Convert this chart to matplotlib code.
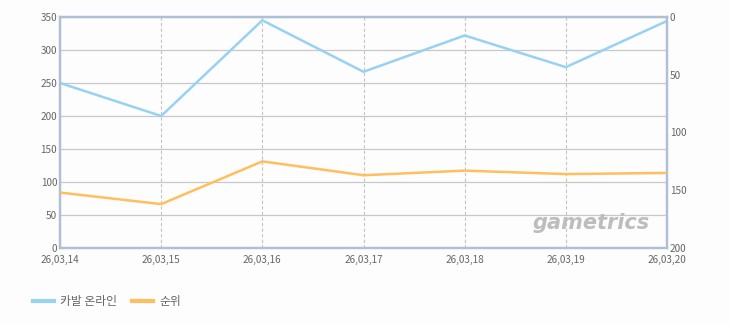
import matplotlib
matplotlib.use("Agg")
import matplotlib.pyplot as plt
from matplotlib.lines import Line2D

plt.rcParams['font.family'] = ['Noto Sans CJK KR', 'DejaVu Sans']

dates = ['26,03,14', '26,03,15', '26,03,16', '26,03,17', '26,03,18', '26,03,19', '26,03,20']
game_vals = [250, 200, 345, 267, 322, 274, 344]
rank_vals = [152, 162, 125, 137, 133, 136, 135]

blue = '#97d2f2'
orange = '#ffbf5e'
frame = '#adc0d6'
txt = '#666666'

fig = plt.figure(figsize=(7.3, 3.25), dpi=100)
fig.patch.set_facecolor('#fdfdfd')
ax = fig.add_axes([60/730, 77/325, 607/730, 231/325])
ax.set_facecolor('#fdfdfd')

x = list(range(len(dates)))
ax.plot(x, game_vals, color=blue, lw=1.8, zorder=3)
ax.set_xlim(0, len(dates) - 1)
ax.set_ylim(0, 350)
ax.set_yticks(range(0, 351, 50))
ax.set_xticks(x)
ax.set_xticklabels(dates)

ax.grid(axis='y', color='#c8c8c8', lw=0.9, ls='-')
ax.grid(axis='x', color='#c4c4c4', lw=0.8, ls=(0, (3, 2)))
ax.set_axisbelow(True)

# rank on the right, inverted
ax2 = ax.twinx()
ax2.plot(x, rank_vals, color=orange, lw=1.8, zorder=3)
ax2.set_ylim(200, 0)
ax2.set_yticks(range(0, 201, 50))

for a in (ax, ax2):
    for s in a.spines.values():
        s.set_color(frame)
        s.set_linewidth(1.6)
    a.tick_params(length=0, labelsize=7.2, labelcolor=txt, pad=2)

ax.tick_params(axis='x', pad=5)

# watermark
ax.text(0.972, 0.065, 'gametrics', transform=ax.transAxes, ha='right', va='bottom',
        fontsize=15, fontweight='bold', style='italic', color='#bdbdbd',
        family='DejaVu Sans', zorder=1)

handles = [Line2D([], [], color=blue, lw=3), Line2D([], [], color=orange, lw=3)]
fig.legend(handles, ['카발 온라인', '순위'], loc='center left',
           bbox_to_anchor=(22/730, 1 - 302/325), ncol=2, frameon=False,
           fontsize=8.5, handlelength=1.8, handletextpad=0.5, columnspacing=1.3,
           labelcolor=txt)

fig.savefig('out.png', dpi=100, facecolor=fig.get_facecolor())
